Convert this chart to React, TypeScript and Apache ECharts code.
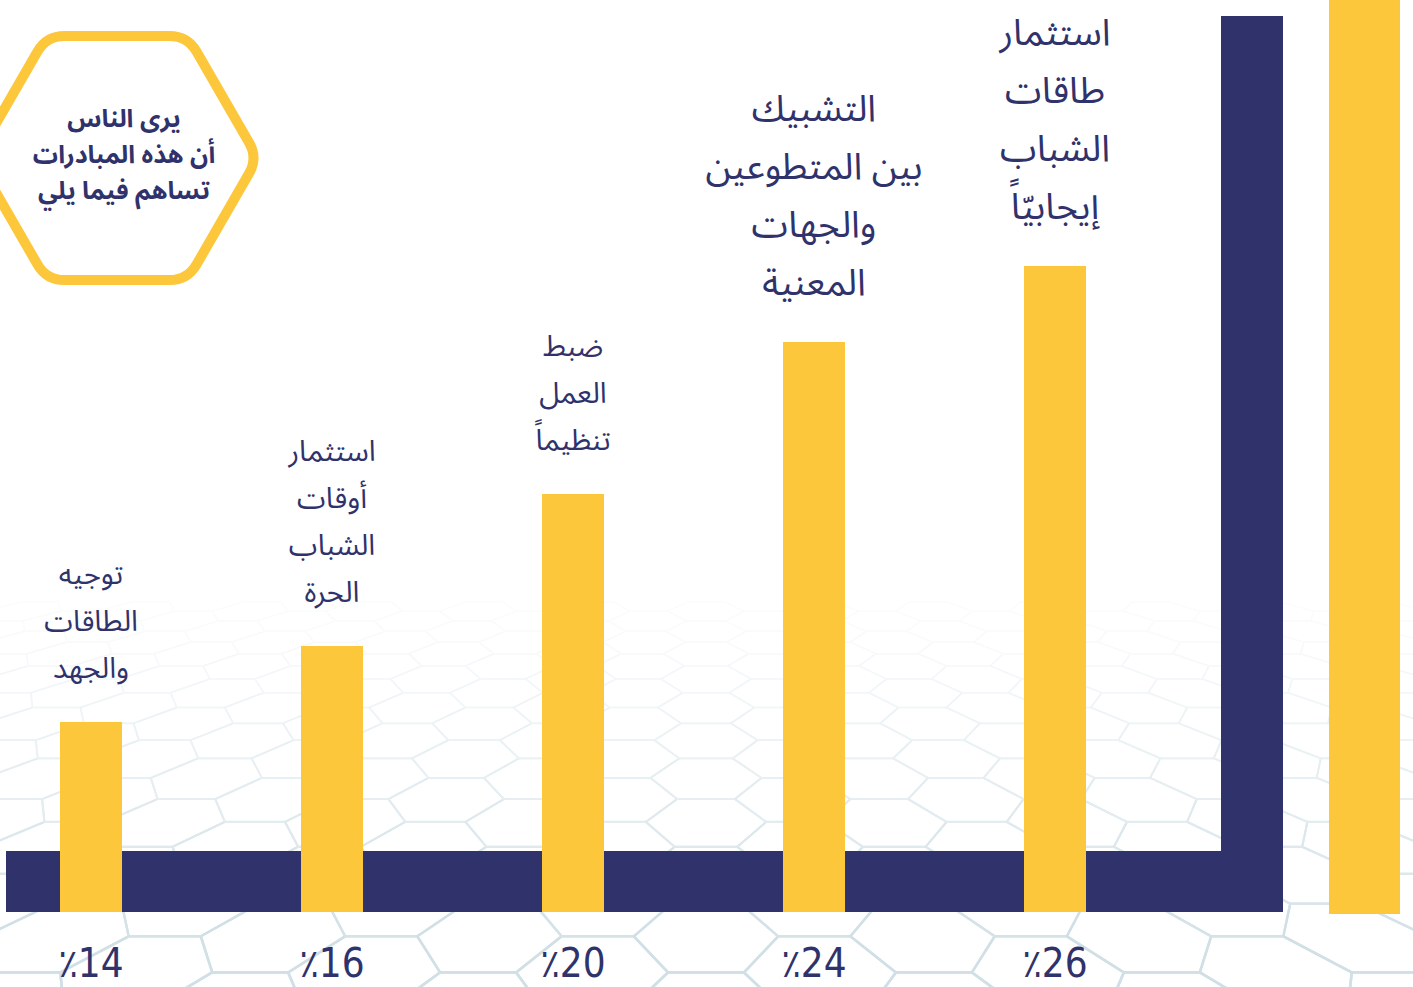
import React, { useEffect, useRef } from "react";
import * as echarts from "echarts";

const categories = [
  "توجيه\nالطاقات\nوالجهد",
  "استثمار\nأوقات\nالشباب\nالحرة",
  "ضبط\nالعمل\nتنظيماً",
  "التشبيك\nبين المتطوعين\nوالجهات\nالمعنية",
  "استثمار\nطاقات\nالشباب\nإيجابيّاً",
];
const values = [14, 16, 20, 24, 26];
const percentSign = "٪";
const titleLines = ["يرى الناس", "أن هذه المبادرات", "تساهم فيما يلي"];

const NAVY = "#30326B";
const YELLOW = "#FDC73B";
const AR_FONT = "'Noto Sans Arabic', 'DejaVu Sans', sans-serif";

function roundedHexPath(cx: number, cy: number, R: number, rc: number) {
  const pts: number[][] = [];
  for (let k = 0; k < 6; k++) {
    const a = (Math.PI / 3) * k;
    pts.push([cx + R * Math.cos(a), cy + R * Math.sin(a)]);
  }
  const t = rc / R;
  let d = "";
  for (let i = 0; i < 6; i++) {
    const V = pts[i];
    const P = pts[(i + 5) % 6];
    const N = pts[(i + 1) % 6];
    const A = [V[0] + (P[0] - V[0]) * t, V[1] + (P[1] - V[1]) * t];
    const B = [V[0] + (N[0] - V[0]) * t, V[1] + (N[1] - V[1]) * t];
    d += (i === 0 ? "M" : "L") + A[0].toFixed(2) + " " + A[1].toFixed(2) + " ";
    d += "Q" + V[0].toFixed(2) + " " + V[1].toFixed(2) + " " + B[0].toFixed(2) + " " + B[1].toFixed(2) + " ";
  }
  return d + "Z";
}

function mix(f: number) {
  const base = [204, 221, 227];
  const c = base.map((b) => Math.round(255 + (b - 255) * f));
  return `rgb(${c[0]},${c[1]},${c[2]})`;
}

function backgroundPattern() {
  const yh = 250, Ky = 737, Kx = 1250, cxs = 706;
  const r = 0.062;
  const s3 = Math.sqrt(3);
  const proj = (gx: number, gz: number) => [cxs + (gx * Kx) / gz, yh + Ky / gz];
  const els: any[] = [];
  for (let c = -16; c <= 16; c++) {
    for (let row = 6; row <= 24; row++) {
      const hx = c * 1.5 * r;
      const hz = s3 * r * (row + (Math.abs(c) % 2) / 2);
      const ctr = proj(hx, hz);
      if (ctr[1] < 610 || ctr[1] > 1070) continue;
      if (ctr[0] < -130 || ctr[0] > 1550) continue;
      const pts: number[][] = [];
      for (let k = 0; k < 6; k++) {
        const a = (Math.PI / 3) * k;
        pts.push(proj(hx + r * Math.cos(a), hz + r * Math.sin(a)));
      }
      const f = Math.max(0, Math.min(1, (ctr[1] - 630) / 300));
      els.push({
        type: "polygon",
        z: 0,
        silent: true,
        shape: { points: pts },
        style: { fill: "none", stroke: mix(0.1 + 0.8 * f), lineWidth: 2.6 / hz },
      });
    }
  }
  return els;
}

echarts.graphic.registerShape(
  "hexTitle",
  echarts.graphic.extendPath(roundedHexPath(117, 158, 141, 18), {}) as any
);

export default function App() {
  const ref = useRef<HTMLDivElement>(null);
  useEffect(() => {
    if (!ref.current) return;
    const chart = echarts.init(ref.current, undefined, { renderer: "svg" });
    const data = values.map((v, i) => ({
      value: v,
      label: i >= 3 ? { fontSize: 37, lineHeight: 58 } : { fontSize: 29, lineHeight: 47 },
    }));
    chart.setOption({
      animation: false,
      backgroundColor: "#ffffff",
      grid: { left: -29.5, top: 0, width: 1205, height: 912, outerBoundsMode: "none" },
      xAxis: {
        type: "category",
        data: categories,
        axisLine: { show: false },
        axisTick: { show: false },
        splitLine: { show: false },
        axisLabel: {
          margin: 31,
          interval: 0,
          color: NAVY,
          fontSize: 40,
          fontFamily: "'Liberation Sans Narrow', 'DejaVu Sans Condensed', sans-serif",
          formatter: (_v: string, i: number) => percentSign + values[i],
        },
      },
      yAxis: { type: "value", min: 9, max: 33, show: false, splitLine: { show: false } },
      graphic: {
        elements: [
          ...backgroundPattern(),
          { type: "rect", z: 1, silent: true, shape: { x: 6, y: 851, width: 1277, height: 61 }, style: { fill: NAVY } },
          { type: "rect", z: 1, silent: true, shape: { x: 1221, y: 16, width: 62, height: 896 }, style: { fill: NAVY } },
          { type: "rect", z: 1, silent: true, shape: { x: 1329, y: 0, width: 71, height: 914 }, style: { fill: YELLOW } },
          {
            type: "hexTitle",
            z: 5,
            x: 0,
            y: 0,
            scaleX: 1,
            scaleY: 1,
            silent: true,
            style: { fill: "#ffffff", stroke: YELLOW, lineWidth: 10 },
          },
          {
            type: "text",
            z: 6,
            silent: true,
            x: 124,
            y: 155,
            style: {
              text: titleLines.join("\n"),
              fill: NAVY,
              fontSize: 25,
              lineHeight: 36,
              fontWeight: "bold",
              fontFamily: AR_FONT,
              align: "center",
              verticalAlign: "middle",
            },
          },
        ],
      },
      series: [
        {
          type: "bar",
          data,
          barWidth: 62,
          z: 2,
          itemStyle: { color: YELLOW },
          label: {
            show: true,
            position: "top",
            distance: 30,
            color: NAVY,
            fontFamily: AR_FONT,
            align: "center",
            formatter: (p: any) => categories[p.dataIndex],
          },
        },
      ],
    });
    return () => chart.dispose();
  }, []);
  return (
    <div
      ref={ref}
      style={{ position: "fixed", left: 0, top: 0, width: 1413, height: 987, background: "#fff" }}
    />
  );
}
